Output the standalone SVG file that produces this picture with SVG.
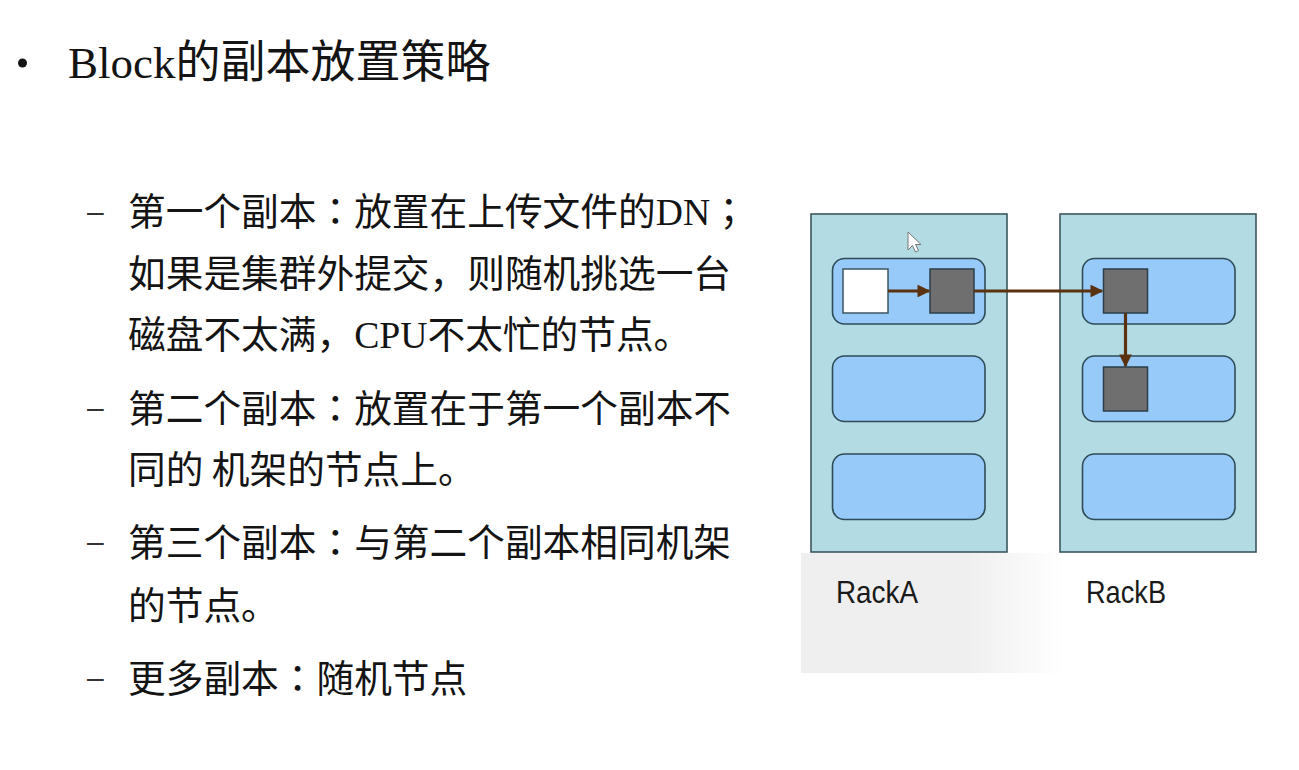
<svg xmlns="http://www.w3.org/2000/svg" width="1299" height="770" viewBox="0 0 1299 770">
<defs>
<style>
.t{font-family:"Liberation Serif","Noto Sans CJK SC",serif;font-size:37.7px;fill:#141414}
.cjk{font-family:"Noto Sans CJK SC",sans-serif}
.p{font-family:"Noto Sans CJK JP",sans-serif}
.dash{font-family:"Liberation Sans",sans-serif;font-size:30px;fill:#333}
.rack{fill:#b3dbe3;stroke:#3d575d;stroke-width:1.6}
.node{fill:#97c9f9;stroke:#2e4c58;stroke-width:1.6}
.blk{fill:#6f6f6f;stroke:#2c3e48;stroke-width:1.5}
.wblk{fill:#ffffff;stroke:#3c5560;stroke-width:1.5}
.lbl{font-family:"Liberation Sans",Arial,sans-serif;font-size:32px;fill:#1a1a1a}
.conn{stroke:#5a3210;stroke-width:3.2;fill:none}
</style>
<marker id="ah" viewBox="0 0 10 10" refX="9" refY="5" markerWidth="4" markerHeight="4" markerUnits="strokeWidth" orient="auto">
<path d="M0,0 L10,5 L0,10 z" fill="#5a3210"/>
</marker>
<linearGradient id="fade" x1="0" y1="0" x2="1" y2="0">
<stop offset="0" stop-color="#efefef"/>
<stop offset="0.35" stop-color="#efefef"/>
<stop offset="0.55" stop-color="#ffffff"/>
<stop offset="1" stop-color="#ffffff"/>
</linearGradient>
</defs>
<rect width="1299" height="770" fill="#ffffff"/>

<g id="title">
<circle cx="22.5" cy="63" r="4.5" fill="#141414"/>
<text x="68" y="78" class="t" style="font-size:45px">Block<tspan class="cjk">的副本放置策略</tspan></text>
</g>

<g id="bullets">
<text x="87" y="222" class="dash">–</text>
<text x="128" y="225" class="t"><tspan class="cjk">第一个副本</tspan><tspan class="p">：</tspan><tspan class="cjk">放置在上传文件的</tspan>DN<tspan class="p">；</tspan></text>
<text x="128" y="287" class="t"><tspan class="cjk">如果是集群外提交</tspan><tspan class="p">，</tspan><tspan class="cjk">则随机挑选一台</tspan></text>
<text x="128" y="348" class="t"><tspan class="cjk">磁盘不太满</tspan><tspan class="p">，</tspan>CPU<tspan class="cjk">不太忙的节点。</tspan></text>
<text x="87" y="418" class="dash">–</text>
<text x="128" y="422" class="t"><tspan class="cjk">第二个副本</tspan><tspan class="p">：</tspan><tspan class="cjk">放置在于第一个副本不</tspan></text>
<text x="128" y="483" class="t"><tspan class="cjk">同的 机架的节点上。</tspan></text>
<text x="87" y="552" class="dash">–</text>
<text x="128" y="556" class="t"><tspan class="cjk">第三个副本</tspan><tspan class="p">：</tspan><tspan class="cjk">与第二个副本相同机架</tspan></text>
<text x="128" y="619" class="t"><tspan class="cjk">的节点。</tspan></text>
<text x="87" y="688" class="dash">–</text>
<text x="128" y="692" class="t"><tspan class="cjk">更多副本</tspan><tspan class="p">：</tspan><tspan class="cjk">随机节点</tspan></text>
</g>

<rect x="801" y="553" width="480" height="120" fill="url(#fade)"/>

<g id="rackA">
<rect x="811" y="214" width="196" height="338" class="rack"/>
<rect x="832.5" y="258.5" width="152.5" height="65.5" rx="12" class="node"/>
<rect x="832.5" y="356" width="152.5" height="65.5" rx="12" class="node"/>
<rect x="832.5" y="454" width="152.5" height="65.5" rx="12" class="node"/>
<rect x="843" y="269" width="45" height="44" class="wblk"/>
<rect x="930" y="269" width="44" height="44" class="blk"/>
<text x="836" y="603" class="lbl" textLength="82" lengthAdjust="spacingAndGlyphs">RackA</text>
</g>

<g id="rackB">
<rect x="1060" y="214" width="196" height="338" class="rack"/>
<rect x="1082.5" y="258.5" width="152.5" height="65.5" rx="12" class="node"/>
<rect x="1082.5" y="356" width="152.5" height="65.5" rx="12" class="node"/>
<rect x="1082.5" y="454" width="152.5" height="65.5" rx="12" class="node"/>
<rect x="1103.5" y="269" width="44" height="44" class="blk"/>
<rect x="1103.5" y="367" width="44" height="44" class="blk"/>
<text x="1086" y="603" class="lbl" textLength="80" lengthAdjust="spacingAndGlyphs">RackB</text>
</g>

<g id="connectors">
<line x1="888" y1="291" x2="929" y2="291" class="conn" marker-end="url(#ah)"/>
<line x1="974" y1="291" x2="1102" y2="291" class="conn" marker-end="url(#ah)"/>
<line x1="1125.5" y1="313" x2="1125.5" y2="366" class="conn" marker-end="url(#ah)"/>
</g>

<path d="M908,232 L908,250 L912.5,245.5 L915.5,252 L918.5,250.5 L915.5,244.5 L921,244.5 Z" fill="#ffffff" stroke="#777" stroke-width="1"/>
</svg>
